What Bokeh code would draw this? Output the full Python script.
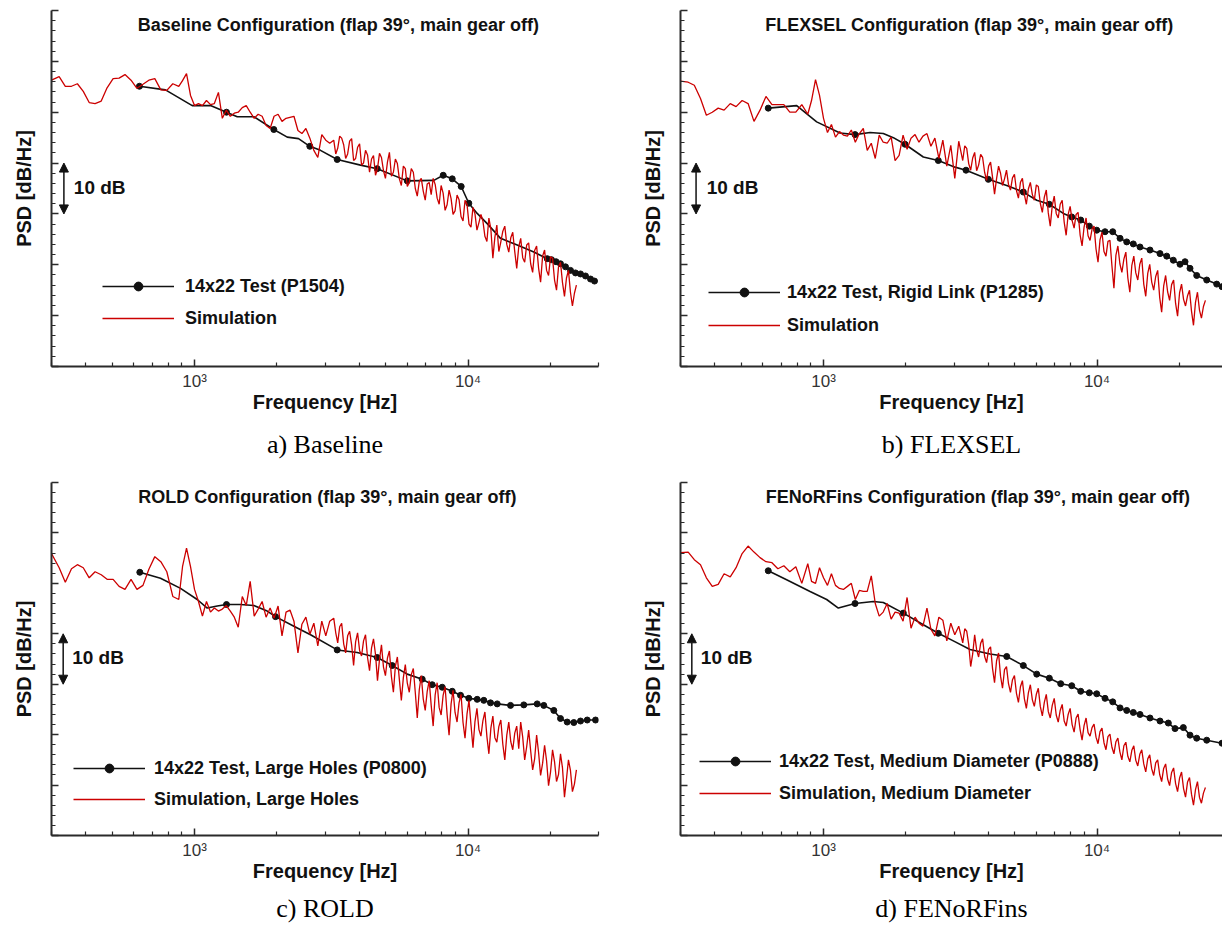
from bokeh.plotting import figure
from bokeh.models import Range1d, FixedTicker, Legend, LegendItem, Label, Arrow, NormalHead, Title
from bokeh.layouts import column, row
from bokeh.embed import file_html
from bokeh.resources import INLINE

# ---------------- data ----------------
x_major_ticks = [1000, 10000]
x_minor_ticks = [300, 400, 500, 600, 700, 800, 900, 2000, 3000, 4000, 5000, 6000, 7000, 8000, 9000, 20000, 30000]
x_tick_labels = {1000: "10³", 10000: "10⁴"}
y_major_ticks = [0, 10, 20, 30, 40, 50, 60, 70]
y_minor_ticks = [2, 4, 6, 8, 12, 14, 16, 18, 22, 24, 26, 28, 32, 34, 36, 38, 42, 44, 46, 48,
                 52, 54, 56, 58, 62, 64, 66, 68]

titles = ["Baseline Configuration (flap 39°, main gear off)",
          "FLEXSEL Configuration (flap 39°, main gear off)",
          "ROLD Configuration (flap 39°, main gear off)",
          "FENoRFins Configuration (flap 39°, main gear off)"]
captions = ["a) Baseline", "b) FLEXSEL", "c) ROLD", "d) FENoRFins"]
test_labels = ["14x22 Test (P1504)", "14x22 Test, Rigid Link (P1285)",
               "14x22 Test, Large Holes (P0800)", "14x22 Test, Medium Diameter (P0888)"]
sim_labels = ["Simulation", "Simulation", "Simulation, Large Holes", "Simulation, Medium Diameter"]

# simulation frequency grid [Hz]
sim_freq = [300, 320, 337, 355, 373, 392, 412, 433, 456, 479, 504, 530, 557, 586, 616, 648, 681, 716, 753, 792, 833, 876,
            904, 935, 967, 1000, 1034, 1069, 1106, 1144, 1182, 1223, 1264, 1307, 1352, 1398, 1445, 1495, 1546, 1598,
            1653, 1709, 1767, 1827, 1890, 1954, 2021, 2089, 2161, 2234, 2310, 2389, 2470, 2554, 2641, 2731, 2824, 2920,
            3020, 3122, 3229, 3339, 3452, 3570, 3691, 3817, 3947, 4081, 4220, 4365, 4513, 4667, 4826, 4990, 5160, 5336,
            5517, 5705, 5899, 6100, 6310, 6524, 6746, 6975, 7213, 7458, 7712, 7975, 8246, 8527, 8817, 9120, 9430, 9752,
            10084, 10427, 10782, 11149, 11529, 11921, 12328, 12747, 13183, 13630, 14095, 14575, 15071, 15585, 16115,
            16664, 17232, 17818, 18425, 19055, 19703, 20375, 21068, 21786, 22528, 23295, 24088, 24909]
# additional (in-between) simulation bins above ~3.2 kHz
sim_freq_mid = [3284, 3395, 3511, 3630, 3754, 3882, 4014, 4150, 4292, 4439, 4590, 4746, 4908, 5075, 5248, 5426, 5611,
                5802, 5999, 6203, 6417, 6635, 6860, 7093, 7335, 7585, 7843, 8110, 8386, 8672, 8967, 9274, 9590, 9917,
                10255, 10604, 10965, 11338, 11725, 12123, 12537, 12963, 13406, 13861, 14334, 14822, 15327, 15849,
                16388, 16947, 17524, 18120, 18737, 19378, 20037, 20721, 21425, 22155, 22910, 23690, 24496]

a_sim_db = [56.3, 57.0, 55.1, 55.1, 55.6, 54.1, 51.9, 51.7, 52.2, 54.8, 56.6, 56.7, 57.4, 56.3, 54.7, 55.5, 56.3, 56.6, 54.4, 54.3, 55.6, 55.1,
            56.2, 57.6, 53.3, 51.3, 51.7, 51.3, 52.3, 51.5, 51.7, 53.9,
            48.8, 50.4, 49.2, 49.8, 50.0, 50.9, 51.3, 50.0, 48.8, 49.6,
            49.2, 47.4, 46.8, 49.2, 49.6, 48.2, 48.8, 49.0, 49.2, 46.4,
            45.8, 46.8, 44.9, 42.5, 41.1, 45.6, 44.5, 43.9, 44.5, 42.9,
            44.9, 40.9, 44.3, 40.5, 43.1, 39.6, 42.5, 38.2, 41.5, 38.9,
            41.1, 37.0, 42.1, 38.2, 39.9, 35.6, 38.9, 36.2, 38.2, 33.5,
            37.0, 32.7, 36.2, 37.0, 33.1, 35.6, 30.7, 34.7, 29.9, 33.7,
            29.5, 32.7, 28.0, 31.3, 26.8, 29.9, 25.6, 29.2, 21.3, 27.8,
            24.5, 27.6, 22.5, 26.4, 19.3, 25.2, 20.5, 24.3, 18.5, 23.7,
            16.6, 22.9, 17.9, 21.3, 15.0, 20.5, 13.8, 18.9, 11.9, 16.0]
a_sim_mid_db = [41.8, 45.3, 43.6, 41.8, 44.8, 40.9, 43.8, 40.0, 41.6, 40.8, 37.6, 41.9, 38.5, 40.2, 37.4, 40.8, 36.9,
                39.4, 35.4, 38.9, 35.0, 36.4, 34.5, 35.9, 33.8, 35.8, 31.9, 34.1, 31.8, 33.0, 30.6, 32.8, 28.6, 31.9,
                27.4, 30.0, 28.3, 28.6, 24.6, 27.0, 25.4, 22.6, 26.6, 24.0, 25.3, 22.6, 23.5, 21.4, 23.9, 20.2, 22.8,
                19.3, 21.7, 18.9, 21.6, 17.0, 19.6, 16.5, 17.4, 14.6, 14.4]

b_sim_db = [56.1, 55.9, 55.3, 52.7, 49.4, 50.0, 50.8, 50.4, 51.7, 51.1, 52.3, 51.7, 48.2, 50.4, 53.1, 51.5, 51.5, 51.5, 50.0, 50.0, 51.5, 49.6,
            52.3, 56.4, 53.3, 48.8, 46.0, 47.6, 45.1, 46.2, 45.5, 45.3,
            46.5, 44.1, 45.8, 46.8, 42.5, 43.9, 40.9, 45.5, 44.1, 43.9,
            45.1, 40.5, 41.5, 45.5, 42.7, 44.9, 45.6, 44.1, 45.3, 45.8,
            43.3, 44.9, 40.9, 44.5, 39.4, 43.5, 37.0, 44.3, 40.5, 42.9,
            38.6, 42.1, 39.6, 41.1, 36.6, 40.2, 33.9, 39.4, 35.6, 38.6,
            34.7, 37.8, 33.1, 37.0, 31.9, 36.2, 32.7, 35.4, 30.3, 34.7,
            27.6, 33.5, 29.2, 32.7, 25.8, 31.5, 27.2, 30.3, 23.7, 29.2,
            24.8, 27.6, 20.5, 26.4, 21.7, 24.8, 15.4, 23.7, 18.5, 22.5,
            14.6, 21.7, 17.0, 21.3, 13.8, 20.1, 15.0, 18.9, 10.7, 17.9,
            13.0, 17.0, 9.9, 16.2, 11.9, 15.0, 8.1, 14.6, 9.5, 13.0]
b_sim_mid_db = [43.4, 39.9, 41.0, 38.5, 41.7, 38.2, 39.4, 37.2, 36.9, 38.0, 36.9, 35.8, 37.1, 34.6, 36.2, 33.8, 34.9,
                33.8, 35.7, 32.1, 33.3, 30.2, 31.6, 30.1, 31.9, 28.4, 29.9, 28.7, 29.9, 25.9, 27.4, 25.7, 27.0, 23.1,
                24.9, 22.6, 24.6, 19.8, 21.9, 20.2, 21.1, 17.4, 19.9, 18.4, 20.1, 16.2, 18.3, 16.6, 17.7, 13.6, 15.8,
                14.7, 16.1, 12.4, 14.5, 13.2, 13.9, 10.9, 12.6, 11.1, 11.8]

c_sim_db = [55.9, 53.1, 50.2, 52.9, 53.7, 53.1, 51.1, 52.3, 51.7, 50.8, 50.8, 49.4, 48.8, 50.8, 48.8, 49.6, 52.8, 55.3, 54.3, 52.3, 47.4, 46.8,
            53.3, 57.0, 53.3, 48.8, 46.4, 43.5, 46.4, 44.3, 45.1, 44.5,
            44.9, 45.6, 44.5, 43.3, 41.3, 47.4, 45.6, 50.4, 43.5, 44.9,
            46.4, 43.3, 45.1, 43.1, 45.5, 39.6, 44.3, 44.7, 42.5, 36.2,
            41.9, 43.3, 39.9, 42.1, 37.6, 42.5, 39.6, 42.5, 43.1, 38.2,
            42.1, 36.2, 40.5, 33.7, 40.2, 35.6, 39.8, 32.7, 39.0, 30.7,
            37.8, 31.7, 36.6, 28.4, 35.4, 26.8, 33.9, 28.4, 33.1, 23.3,
            31.7, 24.8, 30.7, 21.7, 30.3, 23.9, 29.5, 19.9, 28.8, 22.5,
            28.0, 19.3, 26.8, 17.4, 25.2, 19.7, 24.5, 16.2, 23.7, 18.5,
            22.9, 15.0, 22.5, 17.0, 21.7, 22.5, 15.0, 20.9, 13.0, 19.9,
            11.9, 17.9, 9.9, 17.0, 10.7, 16.2, 7.6, 15.0, 8.7, 13.0]
c_sim_mid_db = [40.2, 41.4, 38.0, 39.6, 37.8, 38.4, 36.7, 38.6, 35.3, 37.2, 35.9, 34.9, 33.4, 35.2, 31.5, 33.6, 30.9,
                31.3, 30.2, 31.9, 28.3, 28.9, 27.1, 28.6, 25.8, 27.9, 25.4, 27.8, 24.0, 26.1, 24.4, 26.3, 22.4, 24.1,
                21.9, 22.6, 21.0, 22.8, 19.6, 21.3, 19.4, 21.6, 18.1, 19.9, 18.6, 20.3, 17.2, 19.5, 17.6, 16.8, 15.2,
                16.4, 14.3, 14.8, 12.6, 14.6, 12.1, 13.4, 11.2, 12.9, 10.2]

d_sim_db = [56.1, 56.2, 54.7, 53.7, 51.1, 49.4, 49.8, 51.9, 51.3, 53.1, 55.9, 57.4, 56.2, 55.1, 54.3, 54.1, 52.9, 53.5, 52.3, 53.3, 50.0, 53.9,
            50.4, 50.0, 53.1, 51.1, 49.6, 51.9, 49.6, 49.0, 48.8, 49.4,
            50.0, 46.8, 48.6, 48.4, 48.4, 51.5, 46.0, 43.5, 44.3, 46.0,
            42.9, 44.3, 44.1, 42.5, 47.2, 41.1, 43.3, 42.1, 41.5, 45.1,
            40.9, 39.6, 43.3, 42.7, 38.6, 42.1, 39.8, 41.5, 38.2, 40.5,
            33.5, 39.8, 35.4, 39.0, 34.3, 37.4, 30.3, 36.2, 29.2, 33.5,
            28.4, 31.7, 26.4, 30.7, 25.2, 29.9, 25.6, 29.2, 23.7, 28.0,
            23.3, 27.2, 22.5, 26.0, 21.7, 25.2, 20.5, 24.1, 18.9, 23.3,
            19.7, 22.1, 18.2, 21.3, 17.0, 20.1, 16.2, 19.3, 15.0, 18.5,
            14.6, 17.8, 13.8, 17.0, 12.6, 16.0, 11.9, 15.0, 10.7, 14.2,
            9.9, 13.4, 8.7, 12.6, 7.6, 11.5, 6.0, 10.7, 6.4, 9.5]
d_sim_mid_db = [41.0, 37.9, 36.0, 36.8, 38.1, 35.5, 36.9, 33.1, 34.6, 31.6, 32.9, 30.1, 30.9, 28.2, 29.5, 27.1, 28.3,
                26.9, 28.0, 25.6, 26.4, 24.6, 25.8, 23.9, 24.8, 22.7, 24.0, 22.0, 23.3, 21.0, 21.8, 20.4, 21.4, 19.5,
                20.6, 18.4, 19.6, 17.5, 18.6, 16.6, 17.8, 15.7, 16.9, 14.9, 16.1, 14.2, 15.2, 13.2, 14.4, 12.1, 13.3,
                11.2, 12.5, 10.3, 11.4, 9.3, 10.6, 8.2, 9.1, 7.6, 8.4]

# 14x22 wind-tunnel test spectra (line) and plotted symbols
a_test_freq = [629, 783, 981, 1144, 1309, 1433, 1648, 1950, 2183, 2400, 2640, 2888, 3325, 4045, 4656, 5996, 7499, 8116,
               8756, 9443, 10067, 10804, 11754, 13148, 15132, 17403, 19487, 20199, 20986, 21785, 22723, 23700, 24717,
               25786, 26892, 28052, 29010]
a_test_db = [55.1, 54.4, 51.3, 51.3, 50.0, 49.1, 49.1, 46.6, 45.1, 44.8, 43.3, 42.5, 40.7, 39.6, 38.9, 36.5, 36.6, 37.6,
             36.9, 35.4, 32.1, 30.1, 28.1, 25.2, 23.9, 22.5, 21.2, 21.0, 20.6, 20.2, 19.6, 18.9, 18.4, 18.2, 17.8, 17.2, 16.8]
a_mark_freq = [629, 1309, 1950, 2640, 3325, 4656, 5996, 8116, 8756, 9443, 10067, 19487, 20199, 20986, 21785, 22723,
               23700, 24717, 25786, 26892, 28052, 29010]
a_mark_db = [55.1, 50.0, 46.6, 43.3, 40.7, 38.9, 36.5, 37.6, 36.9, 35.4, 32.1, 21.2, 21.0, 20.6, 20.2, 19.6, 18.9, 18.4,
             18.2, 17.8, 17.2, 16.8]

b_test_freq = [628, 798, 944, 1149, 1304, 1479, 1654, 1800, 1986, 2317, 2628, 3026, 3319, 4006, 4676, 5378, 6020, 6693,
               7531, 8083, 8718, 9372, 9975, 10697, 11414, 12140, 12841, 13573, 14361, 15622, 16995, 17983, 19006,
               20114, 20979, 21878, 23147, 25184, 27391, 28640]
b_test_db = [50.8, 51.3, 48.1, 45.9, 45.6, 46.0, 45.8, 45.0, 43.7, 41.2, 40.5, 39.2, 38.6, 36.8, 35.6, 34.3, 32.7, 31.9,
             30.1, 29.4, 28.8, 27.6, 26.8, 26.5, 26.5, 25.2, 24.5, 24.1, 23.5, 22.9, 22.2, 21.7, 20.9, 20.1, 20.6, 19.3,
             17.9, 17.0, 16.2, 15.7]
b_mark_freq = [628, 1304, 1986, 2628, 3319, 4006, 5378, 6693, 8083, 8718, 9372, 9975, 10697, 11414, 12140, 12841, 13573,
               14361, 15622, 16995, 17983, 19006, 20114, 20979, 21878, 23147, 25184, 27391, 28640]
b_mark_db = [50.8, 45.6, 43.7, 40.5, 38.6, 36.8, 34.3, 31.9, 29.4, 28.8, 27.6, 26.8, 26.5, 26.5, 25.2, 24.5, 24.1, 23.5,
             22.9, 22.2, 21.7, 20.9, 20.1, 20.6, 19.3, 17.9, 17.0, 16.2, 15.7]

c_test_freq = [631, 751, 889, 1023, 1113, 1211, 1309, 1473, 1648, 1844, 1978, 2308, 2656, 3325, 3934, 4656, 5283, 5996,
               6801, 7397, 8048, 8756, 9389, 10067, 10804, 11422, 12087, 12788, 14304, 15996, 17906, 18928, 20594,
               21785, 23049, 24372, 25786, 27285, 29260]
c_test_db = [52.2, 51.0, 49.0, 46.8, 45.1, 45.5, 45.8, 45.8, 45.6, 44.5, 43.4, 41.5, 39.8, 36.8, 36.3, 35.3, 33.7, 32.0,
             31.0, 29.9, 29.4, 28.6, 27.8, 27.2, 27.0, 26.8, 26.3, 26.1, 25.8, 25.9, 26.1, 25.8, 24.8, 23.2, 22.5, 22.4,
             22.7, 22.9, 22.9]
c_mark_freq = [631, 1309, 1978, 3325, 4656, 5283, 6801, 7397, 8048, 8756, 9389, 10067, 10804, 11422, 12087, 12788, 14304,
               15996, 17906, 18928, 20594, 21785, 23049, 24372, 25786, 27285, 29260]
c_mark_db = [52.2, 45.8, 43.4, 36.8, 35.3, 33.7, 31.0, 29.9, 29.4, 28.6, 27.8, 27.2, 27.0, 26.8, 26.3, 26.1, 25.8, 25.9,
             26.1, 25.8, 24.8, 23.2, 22.5, 22.4, 22.7, 22.9, 22.9]

d_test_freq = [628, 733, 893, 1027, 1133, 1304, 1521, 1654, 1958, 2317, 2628, 2983, 3433, 4062, 4676, 5378, 6020, 6693,
               7366, 8083, 8718, 9372, 9975, 10697, 11414, 12140, 12841, 13573, 14361, 15622, 16995, 18227, 19285,
               20683, 21878, 23147, 25184, 28640]
d_test_db = [52.5, 50.7, 48.4, 46.8, 45.1, 46.0, 46.4, 46.2, 44.1, 41.8, 40.1, 38.6, 36.9, 36.0, 35.5, 33.7, 32.0, 31.2,
             30.1, 29.7, 28.6, 28.3, 28.1, 27.2, 26.5, 25.3, 24.8, 24.4, 24.0, 23.3, 22.7, 22.3, 21.2, 21.4, 19.9, 19.3,
             18.9, 18.3]
d_mark_freq = [628, 1304, 1958, 2628, 4676, 5378, 6020, 6693, 7366, 8083, 8718, 9372, 9975, 10697, 11414, 12140, 12841,
               13573, 14361, 15622, 16995, 18227, 19285, 20683, 21878, 23147, 25184, 28640]
d_mark_db = [52.5, 46.0, 44.1, 40.1, 35.5, 33.7, 32.0, 31.2, 30.1, 29.7, 28.6, 28.3, 28.1, 27.2, 26.5, 25.3, 24.8, 24.4,
             24.0, 23.3, 22.7, 22.3, 21.2, 21.4, 19.9, 19.3, 18.9, 18.3]

# ---------------- styling ----------------
SANS = "Liberation Sans"
SERIF = "Liberation Serif"
RED = "#cc0000"
INK = "#111111"
AXIS = "#2a2a2a"


def make_panel(i, sim_db, sim_mid_db, test_f, test_db, mark_f, mark_db, width, height, top, bottom,
               xmax, title_x, legend_loc, legend_spacing, legend_standoff, arrow_x, text_x, cap_standoff):
    full = xmax == 30000
    p = figure(width=width, height=height, x_axis_type="log", x_range=Range1d(300, xmax),
               y_range=Range1d(0, 70), output_backend="svg", toolbar_location=None, title=None,
               min_border_left=51 if full else 42, min_border_right=40 if full else 0,
               min_border_top=top, min_border_bottom=bottom)
    p.outline_line_color = None
    p.xgrid.visible = False
    p.ygrid.visible = False

    xa = p.xaxis[0]
    xa.ticker = FixedTicker(ticks=x_major_ticks, minor_ticks=x_minor_ticks)
    xa.major_label_overrides = x_tick_labels
    xa.major_tick_in, xa.major_tick_out = 7, 0
    xa.minor_tick_in, xa.minor_tick_out = 4, 0
    xa.axis_line_width = 2
    xa.axis_line_color = AXIS
    xa.major_tick_line_color = AXIS
    xa.minor_tick_line_color = AXIS
    xa.major_tick_line_width = 1.5
    xa.minor_tick_line_width = 1.2
    xa.major_label_text_font = SANS
    xa.major_label_text_font_size = "17px"
    xa.major_label_text_color = "#333333"
    xa.major_label_standoff = 5
    xa.axis_label = "Frequency [Hz]"
    xa.axis_label_text_font = SANS
    xa.axis_label_text_font_style = "bold"
    xa.axis_label_text_font_size = "20px"
    xa.axis_label_text_color = INK
    xa.axis_label_standoff = -3

    ya = p.yaxis[0]
    ya.ticker = FixedTicker(ticks=y_major_ticks, minor_ticks=y_minor_ticks)
    ya.major_label_overrides = {v: "" for v in y_major_ticks}
    ya.major_tick_in, ya.major_tick_out = 7, 0
    ya.minor_tick_in, ya.minor_tick_out = 4, 0
    ya.axis_line_width = 2
    ya.axis_line_color = AXIS
    ya.major_tick_line_color = AXIS
    ya.minor_tick_line_color = AXIS
    ya.major_tick_line_width = 1.5
    ya.minor_tick_line_width = 1.2
    ya.major_label_standoff = 0
    ya.axis_label = "PSD [dB/Hz]"
    ya.axis_label_text_font = SANS
    ya.axis_label_text_font_style = "bold"
    ya.axis_label_text_font_size = "20px"
    ya.axis_label_text_color = INK
    ya.axis_label_standoff = 17

    # simulation spectrum: coarse grid plus the in-between bins, ordered by frequency
    sim_pts = sorted(zip(sim_freq + sim_freq_mid, sim_db + sim_mid_db))
    sim_f = [f for f, _ in sim_pts]
    sim_v = [v for _, v in sim_pts]

    test_line = p.line(test_f, test_db, line_color=INK, line_width=1.6)
    test_mark = p.scatter(mark_f, mark_db, size=6, marker="circle", fill_color=INK, line_color=INK)
    sim_line = p.line(sim_f, sim_v, line_color=RED, line_width=1.3)

    legend = Legend(items=[LegendItem(label=test_labels[i], renderers=[test_line, test_mark]),
                           LegendItem(label=sim_labels[i], renderers=[sim_line])],
                    location=legend_loc, orientation="vertical",
                    background_fill_alpha=0, border_line_color=None,
                    glyph_width=72, glyph_height=22, label_height=22,
                    label_standoff=legend_standoff, spacing=legend_spacing, padding=0, margin=0,
                    label_text_font=SANS, label_text_font_style="bold", label_text_font_size="18px",
                    label_text_color=INK)
    p.add_layout(legend)

    p.add_layout(Label(x=title_x, y=67.1, text=titles[i], text_align="center", text_baseline="middle",
                       text_font=SANS, text_font_style="bold", text_font_size="18px", text_color=INK))

    p.add_layout(Arrow(start=NormalHead(size=9, fill_color=INK, line_color=INK),
                       end=NormalHead(size=9, fill_color=INK, line_color=INK),
                       x_start=arrow_x, y_start=30, x_end=arrow_x, y_end=40,
                       line_color=INK, line_width=1.5))
    p.add_layout(Label(x=text_x, y=35.2, text="10 dB", text_align="left", text_baseline="middle",
                       text_font=SANS, text_font_style="bold", text_font_size="19px", text_color=INK))

    # sub-figure caption, below the axis title
    p.add_layout(Title(text=captions[i], align="center", text_font=SERIF, text_font_style="normal",
                       text_font_size="26px", text_color="#000000", standoff=cap_standoff), "below")
    return p


pa = make_panel(0, a_sim_db, a_sim_mid_db, a_test_freq, a_test_db, a_mark_freq, a_mark_db,
                width=638, height=470, top=10, bottom=104,
                xmax=30000, title_x=3358, legend_loc=(51, 37), legend_spacing=10, legend_standoff=11,
                arrow_x=333, text_x=362, cap_standoff=24)
pb = make_panel(1, b_sim_db, b_sim_mid_db, b_test_freq, b_test_db, b_mark_freq, b_mark_db,
                width=584, height=470, top=10, bottom=104,
                xmax=28760, title_x=3416, legend_loc=(28, 30), legend_spacing=11, legend_standoff=7,
                arrow_x=342, text_x=374, cap_standoff=24)
pc = make_panel(2, c_sim_db, c_sim_mid_db, c_test_freq, c_test_db, c_mark_freq, c_mark_db,
                width=638, height=460, top=12, bottom=92,
                xmax=30000, title_x=3059, legend_loc=(22, 25), legend_spacing=9, legend_standoff=9,
                arrow_x=331, text_x=357, cap_standoff=15)
pd = make_panel(3, d_sim_db, d_sim_mid_db, d_test_freq, d_test_db, d_mark_freq, d_mark_db,
                width=584, height=460, top=12, bottom=92,
                xmax=28760, title_x=3666, legend_loc=(19, 31), legend_spacing=10, legend_standoff=8,
                arrow_x=330, text_x=356, cap_standoff=15)

layout = column(row(pa, pb), row(pc, pd))
open("out.html", "w").write(file_html(layout, INLINE))
